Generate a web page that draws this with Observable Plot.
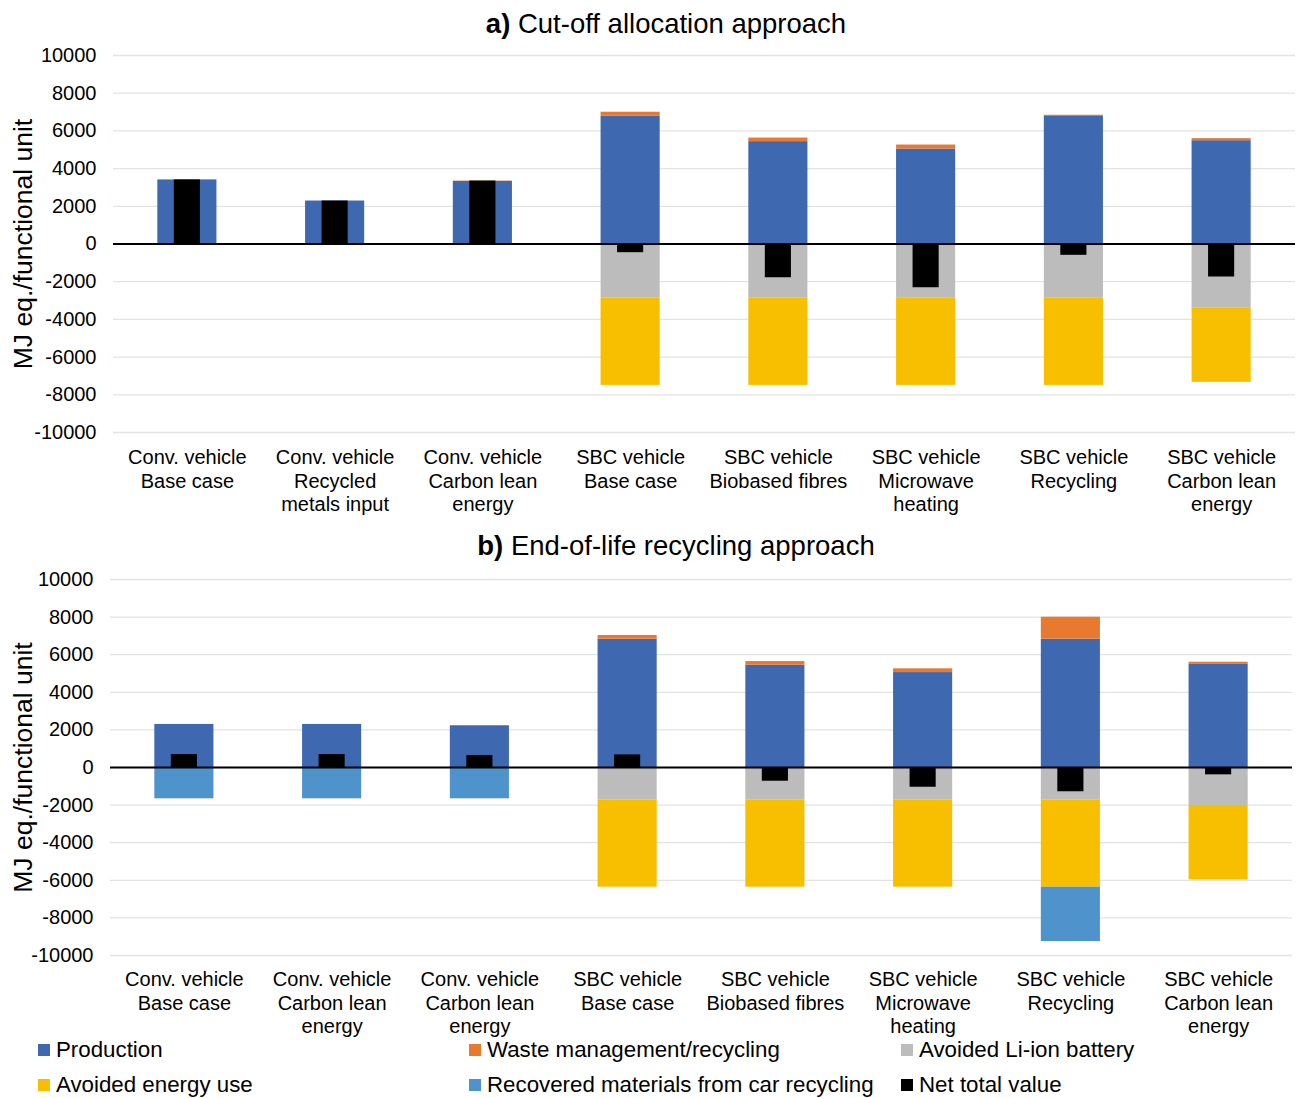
<!DOCTYPE html>
<html>
<head>
<meta charset="utf-8">
<script src="https://cdn.jsdelivr.net/npm/d3@7"></script>
<script src="https://cdn.jsdelivr.net/npm/@observablehq/plot@0.6"></script>
<style>
  html, body { margin: 0; padding: 0; background: #fff; }
  body { width: 1296px; height: 1098px; position: relative; overflow: hidden;
         font-family: "Liberation Sans", Arial, sans-serif; color: #000; }
  .panel { position: absolute; left: 0; }
  .title { position: absolute; left: 0; text-align: center; font-size: 27.5px;
           line-height: 30px; white-space: nowrap; z-index: 2; }
  .title b { font-weight: bold; }
  .legend-item { position: absolute; font-size: 22.3px; line-height: 24px; white-space: nowrap; }
  .legend-item .sw { position: absolute; width: 12px; height: 12px; top: 6px; }
</style>
</head>
<body>
<div id="panelA" class="panel" style="top:0px"></div>
<div id="panelB" class="panel" style="top:524px"></div>
<div class="title" style="top:9px; width:1332px"><b>a)</b> Cut-off allocation approach</div>
<div class="title" style="top:531px; width:1352px"><b>b)</b> End-of-life recycling approach</div>
<div id="legend"></div>
<script>
// Impact categories (stack order) and their colours
const series = [
  "Production",
  "Waste management/recycling",
  "Avoided Li-ion battery",
  "Avoided energy use",
  "Recovered materials from car recycling"
];
const seriesColors = ["#3e68b0", "#e8792f", "#bcbcbc", "#f7bf00", "#4f93cd"];
const netLabel = "Net total value";
const yTitle = "MJ eq./functional unit";
const yTicks = [-10000, -8000, -6000, -4000, -2000, 0, 2000, 4000, 6000, 8000, 10000];

// a) Cut-off allocation approach
const cutoffLabels = [
  "Conv. vehicle\nBase case",
  "Conv. vehicle\nRecycled\nmetals input",
  "Conv. vehicle\nCarbon lean\nenergy",
  "SBC vehicle\nBase case",
  "SBC vehicle\nBiobased fibres",
  "SBC vehicle\nMicrowave\nheating",
  "SBC vehicle\nRecycling",
  "SBC vehicle\nCarbon lean\nenergy"
];
const cutoffProduction = [3400, 2280, 3320, 6790, 5430, 5040, 6800, 5480];
const cutoffWaste      = [0, 0, 20, 200, 190, 210, 30, 110];
const cutoffBattery    = [0, 0, 0, -2850, -2850, -2850, -2850, -3380];
const cutoffEnergy     = [0, 0, 0, -4650, -4650, -4650, -4650, -3960];
const cutoffRecovered  = [0, 0, 0, 0, 0, 0, 0, 0];
const cutoffNet        = [3400, 2280, 3340, -460, -1790, -2320, -600, -1750];

// b) End-of-life recycling approach
const eolLabels = [
  "Conv. vehicle\nBase case",
  "Conv. vehicle\nCarbon lean\nenergy",
  "Conv. vehicle\nCarbon lean\nenergy",
  "SBC vehicle\nBase case",
  "SBC vehicle\nBiobased fibres",
  "SBC vehicle\nMicrowave\nheating",
  "SBC vehicle\nRecycling",
  "SBC vehicle\nCarbon lean\nenergy"
];
const eolProduction = [2290, 2290, 2220, 6825, 5440, 5050, 6825, 5510];
const eolWaste      = [0, 0, 0, 195, 195, 200, 1170, 90];
const eolBattery    = [0, 0, 0, -1720, -1720, -1720, -1720, -2020];
const eolEnergy     = [0, 0, 0, -4645, -4645, -4645, -4645, -3955];
const eolRecovered  = [-1665, -1665, -1665, 0, 0, 0, -2890, 0];
const eolNet        = [690, 690, 640, 670, -730, -1050, -1290, -390];

function stackedRows(columns) {
  const rows = [];
  columns[0].forEach((_, i) => {
    columns.forEach((col, s) => rows.push({i, series: series[s], value: col[i]}));
  });
  return rows;
}

function panel({labels, columns, net, height, marginTop, marginBottom, marginLeft, marginRight, labelPadding, titleDx}) {
  const rows = stackedRows(columns);
  const netRows = net.map((value, i) => ({i, value}));
  return Plot.plot({
    width: 1296,
    height,
    marginTop, marginBottom, marginLeft, marginRight,
    style: {fontFamily: "'Liberation Sans', Arial, sans-serif", fontSize: "20px", color: "#000", background: "transparent", overflow: "visible"},
    x: {type: "band", domain: d3.range(labels.length), paddingInner: 0.6, paddingOuter: 0.3, round: false, axis: null, label: null},
    y: {domain: [-10000, 10000], axis: null, label: null},
    color: {domain: series, range: seriesColors},
    marks: [
      Plot.ruleY(yTicks, {stroke: "#e3e3e3", strokeWidth: 1.3}),
      Plot.axisY({ticks: yTicks, tickSize: 0, tickPadding: 17, fontSize: 20, label: null, tickFormat: d => String(d)}),
      Plot.axisX({tickSize: 0, tickPadding: labelPadding, fontSize: 20, lineHeight: 1.17, label: null, tickFormat: i => labels[i]}),
      Plot.barY(rows, {x: "i", y: "value", fill: "series"}),
      Plot.barY(netRows, {x: "i", y: "value", fill: "#000", insetLeft: 16.5, insetRight: 16.5}),
      Plot.ruleY([0], {stroke: "#000", strokeWidth: 2}),
      Plot.text([yTitle], {frameAnchor: "left", textAnchor: "middle", lineAnchor: "middle", dx: titleDx, rotate: -90, fontSize: 26.5, text: d => d})
    ]
  });
}

document.getElementById("panelA").append(panel({
  labels: cutoffLabels,
  columns: [cutoffProduction, cutoffWaste, cutoffBattery, cutoffEnergy, cutoffRecovered],
  net: cutoffNet,
  height: 520, marginTop: 55, marginBottom: 88, marginLeft: 113, marginRight: 1,
  labelPadding: 15, titleDx: -90
}));

document.getElementById("panelB").append(panel({
  labels: eolLabels,
  columns: [eolProduction, eolWaste, eolBattery, eolEnergy, eolRecovered],
  net: eolNet,
  height: 516, marginTop: 55, marginBottom: 85, marginLeft: 110, marginRight: 4,
  labelPadding: 14, titleDx: -87
}));

// Legend below both panels
const legendEntries = [
  {label: series[0], color: seriesColors[0], x: 38, y: 1050},
  {label: series[1], color: seriesColors[1], x: 469, y: 1050},
  {label: series[2], color: seriesColors[2], x: 901, y: 1050},
  {label: series[3], color: seriesColors[3], x: 38, y: 1085},
  {label: series[4], color: seriesColors[4], x: 469, y: 1085},
  {label: netLabel, color: "#000", x: 901, y: 1085}
];
const legend = d3.select("#legend");
legendEntries.forEach(e => {
  const item = legend.append("div").attr("class", "legend-item")
    .style("left", e.x + "px").style("top", (e.y - 12) + "px")
    .style("padding-left", "18px");
  item.append("span").attr("class", "sw").style("left", "0px").style("background", e.color);
  item.append("span").text(e.label);
});
</script>
</body>
</html>
